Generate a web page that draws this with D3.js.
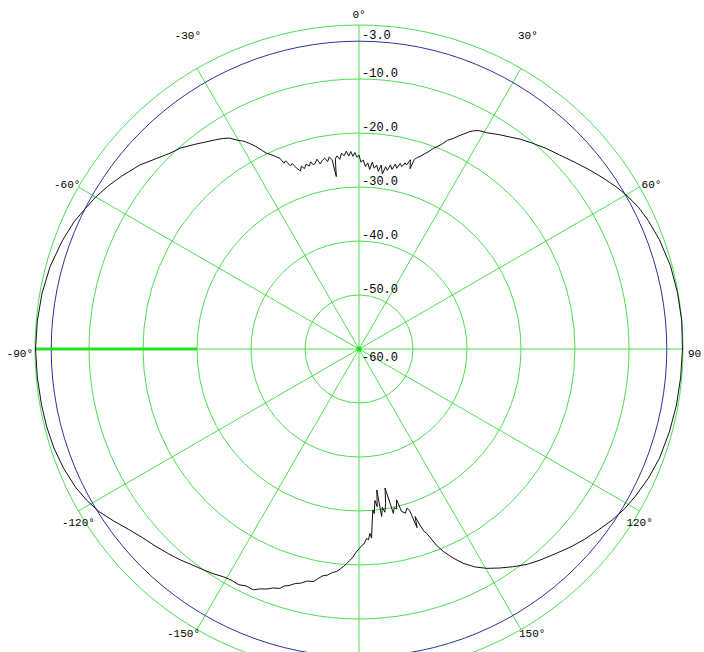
<!DOCTYPE html>
<html>
<head>
<meta charset="utf-8">
<script src="https://cdn.jsdelivr.net/npm/d3@7"></script>
<style>
  html, body { margin: 0; padding: 0; background: #fff; }
  text { font-family: "Liberation Mono", "DejaVu Sans Mono", monospace; font-size: 12px; fill: #000; }
</style>
</head>
<body>
<div class="chart"></div>
<script>
// Ring levels (dB) and their labels
const ringDb = [-60, -50, -40, -30, -20, -10, 0];
const ringLabelDb = [-3, -10, -20, -30, -40, -50, -60];
const refLevelDb = -3.0;

// Spokes every 30 degrees, 0 at top, clockwise
const spokeDeg = [0, 30, 60, 90, 120, 150, 180, 210, 240, 270, 300, 330];
const angleLabelDeg = [0, 30, 60, 90, 120, 150, -150, -120, -90, -60, -30];
const angleLabelText = ["0°", "30°", "60°", "90", "120°", "150°", "-150°", "-120°", "-90°", "-60°", "-30°"];

// Marker segment on the -90 spoke (dB from / to)
const markerDeg = -90;
const markerDb = [0, -30];

// Measured pattern: angle (deg) and level (dB)
const angleDeg = [
  -180, -179, -178.4, -177.5, -176.7, -175.9, -175.1, -174.3, -173.2, -172,
  -171, -170, -168.9, -167.5, -166, -164.8, -163.5, -162.5, -161.7, -160.3,
  -159, -157.5, -156.3, -154.5, -153, -151, -149.2, -147, -145, -142,
  -139.7, -137, -134, -131, -128, -125, -122, -119, -116, -112,
  -108, -104, -100, -95, -90, -85, -80, -75, -70, -66,
  -63, -60, -57, -54, -50, -47, -44, -41.7, -39, -36.5,
  -34.5, -32.8, -31.5, -30.3, -29, -28, -27, -26, -25.3, -24.5,
  -23.5, -22.5, -22, -21.3, -20.5, -19.8, -19, -18.2, -17.5, -16.8,
  -16, -15.2, -14.5, -13.9, -13.2, -12.5, -11.8, -11, -10.2, -9.5,
  -8.8, -8.1, -7.5, -7.1, -6.5, -5.8, -5.1, -4.4, -3.7, -3,
  -2.4, -1.8, -1.2, -0.6, 0, 0.6, 1.3, 2, 2.7, 3.4,
  4.1, 4.8, 5.5, 6.2, 6.9, 7.6, 8.3, 9, 9.7, 10.4,
  11.1, 11.8, 12.5, 13.2, 13.9, 14.5, 15.2, 15.8, 16.3, 17,
  17.6, 18.5, 19.5, 20.3, 21, 22, 23, 24.1, 25, 26,
  27, 28, 29, 30.5, 32, 33.4, 35.5, 37.5, 40, 43,
  46, 49, 52, 55, 58, 60, 63, 66, 70, 75,
  80, 85, 90, 95, 100, 105, 110, 114, 118, 121,
  124, 127, 130, 133, 136, 139.4, 142, 144.7, 147.3, 149.8,
  152, 154.1, 155.7, 156.5, 157.4, 158.5, 159.8, 160.4, 160.9, 161.5,
  162, 162.6, 163.3, 164.2, 165.3, 166, 166.8, 167.5, 168.2, 168.6,
  169.4, 170.2, 171, 171.6, 172.3, 172.8, 173.4, 174, 174.7, 175.1,
  175.6, 176.2, 176.6, 177.2, 177.7, 178.5, 179.2
];
const gainDb = [
  -23.0, -22.2, -21.5, -20.8, -20.2, -19.6, -19.1, -18.6, -18.3, -17.7,
  -17.5, -16.9, -16.1, -16.0, -15.3, -15.0, -14.3, -14.0, -13.3, -13.0,
  -12.4, -11.9, -11.3, -11.4, -11.0, -11.1, -10.9, -10.4, -10.0, -9.4,
  -8.8, -8.2, -7.5, -6.8, -5.8, -4.5, -3.2, -2.3, -1.6, -1.0,
  -0.6, -0.4, -0.3, -0.2, -0.1, -0.2, -0.4, -0.8, -1.5, -2.2,
  -3.0, -3.7, -4.6, -5.6, -7.0, -8.4, -9.6, -10.2, -11.3, -12.3,
  -13.0, -13.6, -14.2, -15.2, -16.0, -16.9, -17.9, -19.1, -19.9, -20.4,
  -21.1, -21.8, -22.9, -22.6, -23.8, -23.5, -24.6, -25.3, -24.5, -25.1,
  -24.4, -24.9, -24.2, -24.9, -24.6, -24.0, -25.0, -24.4, -24.1, -24.8,
  -24.0, -24.6, -27.8, -24.5, -24.0, -24.7, -23.6, -24.1, -23.3, -24.2,
  -23.4, -24.3, -23.6, -24.5, -24.1, -25.4, -25.0, -26.2, -25.5, -26.7,
  -25.3, -26.4, -25.8, -26.9, -25.7, -27.3, -25.9, -26.5, -25.4, -26.2,
  -25.1, -25.8, -24.8, -25.3, -24.5, -24.8, -23.7, -25.3, -23.4, -22.9,
  -22.6, -21.9, -21.2, -20.4, -19.9, -19.1, -18.0, -17.3, -16.5, -15.7,
  -14.8, -14.2, -13.8, -13.5, -13.0, -12.5, -11.8, -11.0, -10.2, -9.2,
  -8.3, -7.2, -6.0, -4.8, -3.6, -2.9, -2.0, -1.4, -0.8, -0.3,
  -0.1, 0.0, -0.1, -0.2, -0.3, -0.5, -0.8, -1.3, -2.0, -2.6,
  -3.4, -4.4, -5.3, -6.3, -7.4, -8.5, -9.4, -10.6, -11.8, -13.0,
  -14.3, -15.9, -17.5, -18.4, -19.4, -21.0, -23.6, -24.2, -25.5, -27.3,
  -25.2, -28.7, -29.2, -28.4, -28.9, -31.2, -29.6, -29.9, -28.9, -30.9,
  -33.8, -31.0, -29.4, -30.4, -28.7, -33.7, -30.6, -31.8, -29.4, -30.1,
  -28.0, -24.9, -25.8, -24.6, -24.9, -23.9, -23.6
];

const Width = 704, Height = 652;
const cx = 359, cy = 349, R = 324;
const gridColor = "#4ede4e";

const rad = d => d * Math.PI / 180;
const r = d3.scaleLinear().domain([-60, 0]).range([0, R]);
const px = (deg, db) => cx + r(db) * Math.sin(rad(deg));
const py = (deg, db) => cy - r(db) * Math.cos(rad(deg));

const svg = d3.select(".chart")
  .append("svg")
  .attr("width", Width)
  .attr("height", Height)
  .style("display", "block");

svg.append("rect").attr("width", Width).attr("height", Height).attr("fill", "#fff");

const g = svg.append("g").attr("transform", "translate(" + cx + "," + cy + ")");

// Rings
g.selectAll("circle.ring")
  .data(ringDb.filter(d => d > -60))
  .enter().append("circle")
  .attr("class", "ring")
  .attr("r", d => r(d))
  .attr("fill", "none")
  .attr("stroke", gridColor)
  .attr("stroke-width", 1);

// Spokes
g.selectAll("line.spoke")
  .data(spokeDeg)
  .enter().append("line")
  .attr("class", "spoke")
  .attr("x1", 0).attr("y1", 0)
  .attr("x2", d => r(0) * Math.sin(rad(d)))
  .attr("y2", d => -r(0) * Math.cos(rad(d)))
  .attr("stroke", gridColor)
  .attr("stroke-width", 1);

// Reference (-3 dB) circle
g.append("circle")
  .attr("r", r(refLevelDb))
  .attr("fill", "none")
  .attr("stroke", "#2f2f9f")
  .attr("stroke-width", 1);

// Marker segment
g.append("line")
  .attr("x1", r(markerDb[0]) * Math.sin(rad(markerDeg)))
  .attr("y1", -r(markerDb[0]) * Math.cos(rad(markerDeg)))
  .attr("x2", r(markerDb[1]) * Math.sin(rad(markerDeg)))
  .attr("y2", -r(markerDb[1]) * Math.cos(rad(markerDeg)))
  .attr("stroke", "#22e022")
  .attr("stroke-width", 3);

// Center dot
g.append("circle").attr("r", 2.5).attr("fill", "#22e022");

// Pattern curve
const pattern = angleDeg.map((a, i) => [a, gainDb[i]]);
const line = d3.lineRadial()
  .angle(d => rad(d[0]))
  .radius(d => r(d[1]))
  .curve(d3.curveLinearClosed);

g.append("path")
  .datum(pattern)
  .attr("d", line)
  .attr("fill", "none")
  .attr("stroke", "#111")
  .attr("stroke-width", 1);

// Ring labels
svg.selectAll("text.ringlabel")
  .data(ringLabelDb)
  .enter().append("text")
  .attr("class", "ringlabel")
  .attr("x", cx + 3)
  .attr("y", d => d === -60 ? cy + 12 : cy - r(d) - 2)
  .text(d => d.toFixed(1));

// Angle labels: placed off the outer end of each spoke
const labelStyle = {
  "0": ["middle", 0, -7], "30": ["start", -3, -29], "60": ["start", 2, 1],
  "90": ["start", 5, 8], "120": ["middle", 0, 15], "150": ["start", -2, 7],
  "-150": ["end", 3, 7], "-120": ["middle", 0, 15], "-90": ["end", -2, 8],
  "-60": ["end", 2, 1], "-30": ["end", 4, -29]
};

svg.selectAll("text.anglelabel")
  .data(angleLabelDeg)
  .enter().append("text")
  .attr("class", "anglelabel")
  .attr("text-anchor", d => labelStyle[d][0])
  .attr("x", d => px(d, 0) + labelStyle[d][1])
  .attr("y", d => py(d, 0) + labelStyle[d][2])
  .style("font-size", "11px")
  .text((d, i) => angleLabelText[i]);
</script>
</body>
</html>
